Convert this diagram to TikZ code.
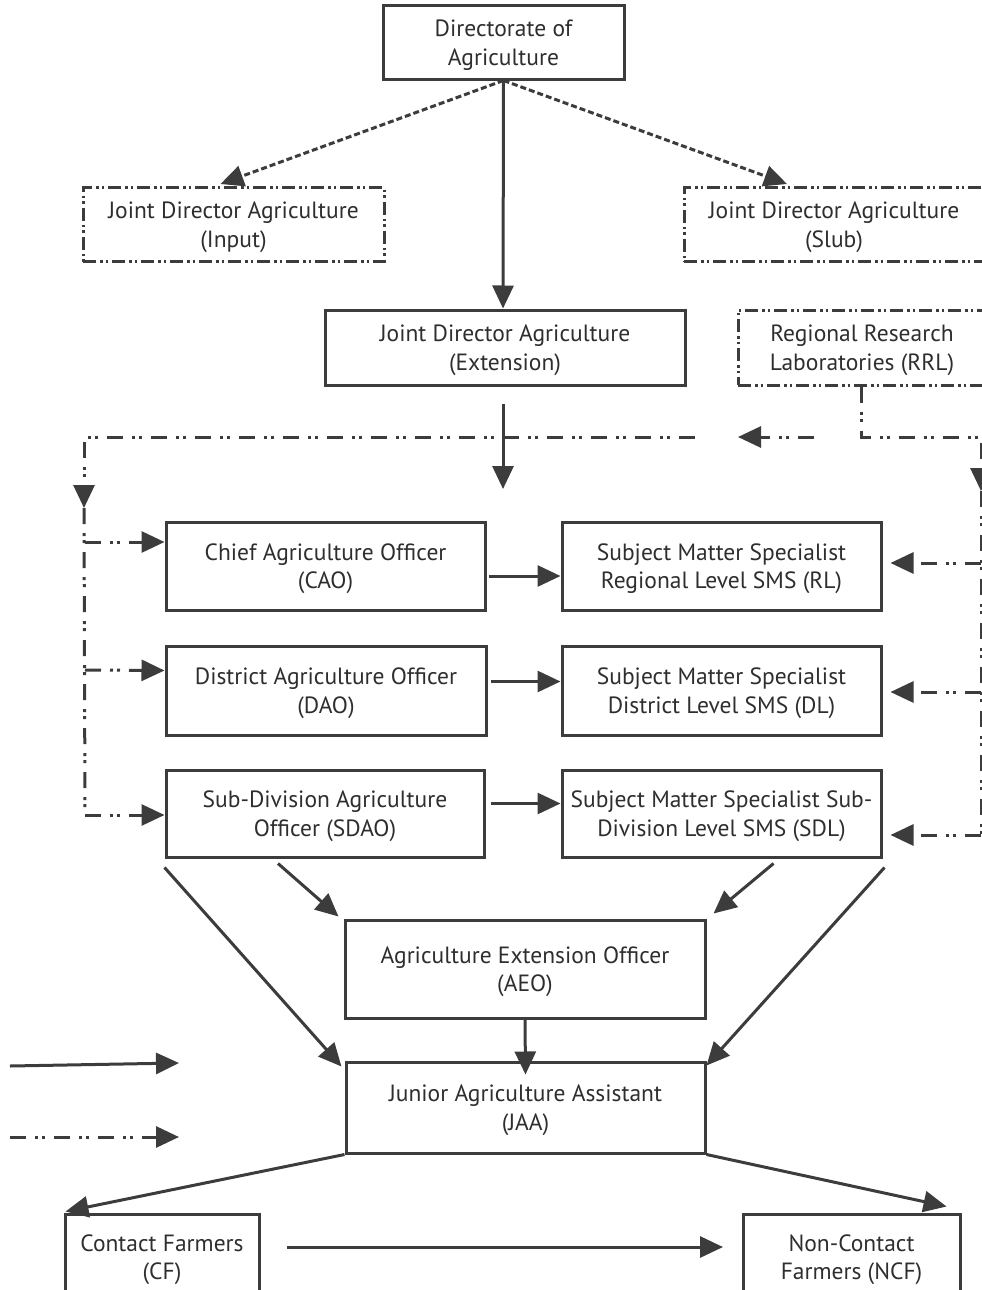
\documentclass[tikz,border=0pt]{standalone}
\usepackage{fontspec}
\setmainfont{PT Sans}
\usetikzlibrary{arrows.meta}
\definecolor{ln}{HTML}{3C3C3C}
\definecolor{tx}{HTML}{2E2E2E}
\tikzset{
 box/.style={draw=ln, line width=3pt, rectangle, align=center, inner sep=0pt, text=tx, text depth=0pt, font=\fontsize{23.5}{28.5}\selectfont},
 dbox/.style={box, dash pattern=on 13pt off 4pt on 2.5pt off 3pt on 2.5pt off 4pt},
 tip/.style={-{Triangle[length=23pt,width=21pt]}},
 con/.style={draw=ln, line width=3pt, tip},
 dcon/.style={draw=ln, line width=3pt, dash pattern=on 6pt off 3pt, tip},
 ddline/.style={draw=ln, line width=3pt, dash pattern=on 16pt off 9pt on 3pt off 4pt on 3pt off 9pt},
 ddcon/.style={ddline, tip},
}
\begin{document}
\begin{tikzpicture}[x=1pt,y=-1pt]
\useasboundingbox (0,0) rectangle (982,1290);
\clip (0,0) rectangle (982,1290);
% boxes
\node[box, minimum width=241pt, minimum height=73pt] (dir) at (503.5,42.5) {Directorate of\\Agriculture};
\node[dbox, minimum width=301pt, minimum height=74pt] (inp) at (233.5,224.5) {Joint Director Agriculture\\(Input)};
\node[dbox, minimum width=300pt, minimum height=74pt] (slub) at (834,224.5) {Joint Director Agriculture\\(Slub)};
\node[box, minimum width=360pt, minimum height=75pt] (ext) at (505,347.5) {Joint Director Agriculture\\(Extension)};
\node[dbox, minimum width=248pt, minimum height=75pt] (rrl) at (862,347.5) {Regional Research\\Laboratories (RRL)};
\node[box, minimum width=319pt, minimum height=88pt] (cao) at (325.5,566) {Chief Agriculture Officer\\(CAO)};
\node[box, minimum width=319pt, minimum height=88pt] (rl) at (721.5,566) {Subject Matter Specialist\\Regional Level SMS (RL)};
\node[box, minimum width=320pt, minimum height=89pt] (dao) at (326,690.5) {District Agriculture Officer\\(DAO)};
\node[box, minimum width=319pt, minimum height=89pt] (dl) at (721.5,690.5) {Subject Matter Specialist\\District Level SMS (DL)};
\node[box, minimum width=318pt, minimum height=87pt] (sdao) at (325,813.5) {Sub-Division Agriculture\\Officer (SDAO)};
\node[box, minimum width=319pt, minimum height=87pt] (sdl) at (721.5,813.5) {Subject Matter Specialist Sub-\\Division Level SMS (SDL)};
\node[box, minimum width=360pt, minimum height=98pt] (aeo) at (525,969) {Agriculture Extension Officer\\(AEO)};
\node[box, minimum width=359pt, minimum height=91pt] (jaa) at (525.5,1107.5) {Junior Agriculture Assistant\\(JAA)};
\node[box, minimum width=194pt, minimum height=86pt] (cf) at (162,1257) {Contact Farmers\\(CF)};
\node[box, minimum width=217pt, minimum height=86pt] (ncf) at (851.5,1257) {Non-Contact\\Farmers (NCF)};
% free-end coordinates
\coordinate (exttip) at (503,489);
\coordinate (busR) at (695,437);
\coordinate (busL) at (84,437);
\coordinate (Lmid) at (84,508);
\coordinate (b1) at (85,542);
\coordinate (b2) at (85,670);
\coordinate (b3) at (85,815);
\coordinate (rrlc) at (861,437);
\coordinate (rc) at (981,437);
\coordinate (rmid) at (981,491);
\coordinate (r1) at (981,563);
\coordinate (r2) at (981,692);
\coordinate (r3) at (981,835);
\coordinate (la) at (814,437);
\coordinate (lb) at (738,437);
\coordinate (leg1a) at (10,1066);
\coordinate (leg1b) at (179,1063);
\coordinate (leg2a) at (10,1137);
\coordinate (leg2b) at (179,1137);
\coordinate (cfo) at (287,1247);
\coordinate (ncfi) at (723,1247);
% top connectors
\draw[dcon] (dir.south) -- ([xshift=-13pt,yshift=2pt]inp.north);
\draw[dcon] (dir.south) -- ([xshift=-47pt,yshift=2pt]slub.north);
\draw[con] (dir.south) -- ([xshift=-2pt]ext.north);
\draw[con] ([xshift=-2pt,yshift=-17pt]ext.south) -- (exttip);
% left bus
\draw[ddcon] (busR) -- (busL) -- (Lmid);
\draw[ddline] (Lmid) -- (b3);
\draw[ddcon] (b1) -- ([yshift=24pt]cao.west);
\draw[ddcon] (b2) -- ([yshift=20pt]dao.west);
\draw[ddcon] (b3) -- ([yshift=-1.5pt]sdao.west);
% right bus
\draw[ddcon] ([xshift=-1pt]rrl.south) -- (rrlc) -- (rc) -- (rmid);
\draw[ddline] (rmid) -- (r3);
\draw[ddcon] (la) -- (lb);
\draw[ddcon] (r1) -- ([xshift=8pt,yshift=3pt]rl.east);
\draw[ddcon] (r2) -- ([xshift=8pt,yshift=-1.5pt]dl.east);
\draw[ddcon] (r3) -- ([xshift=8pt,yshift=-21.5pt]sdl.east);
% level arrows
\draw[con] ([xshift=2pt,yshift=-10pt]cao.east) -- ([yshift=-10pt]rl.west);
\draw[con] ([xshift=3pt,yshift=9pt]dao.east) -- ([yshift=9pt]dl.west);
\draw[con] ([xshift=5pt,yshift=10pt]sdao.east) -- ([yshift=10pt]sdl.west);
% to AEO / JAA
\draw[con] ([yshift=-9pt]sdao.south west) -- ([xshift=-3pt,yshift=-6pt]jaa.north west);
\draw[con] ([xshift=-47pt,yshift=-5pt]sdao.south) -- ([xshift=-5pt,yshift=2pt]aeo.north west);
\draw[con] ([xshift=52pt,yshift=-5pt]sdl.south) -- ([xshift=7pt,yshift=5pt]aeo.north east);
\draw[con] ([xshift=2pt,yshift=-9pt]sdl.south east) -- ([yshift=-5pt]jaa.north east);
\draw[con] (aeo.south) -- ([yshift=-14pt]jaa.north);
% farmers
\draw[con] (jaa.south west) -- ([xshift=2pt,yshift=1pt]cf.north west);
\draw[con] (jaa.south east) -- ([xshift=-15pt,yshift=6pt]ncf.north east);
\draw[con] (cfo) -- (ncfi);
% legend
\draw[con] (leg1a) -- (leg1b);
\draw[ddcon] (leg2a) -- (leg2b);
\end{tikzpicture}
\end{document}
